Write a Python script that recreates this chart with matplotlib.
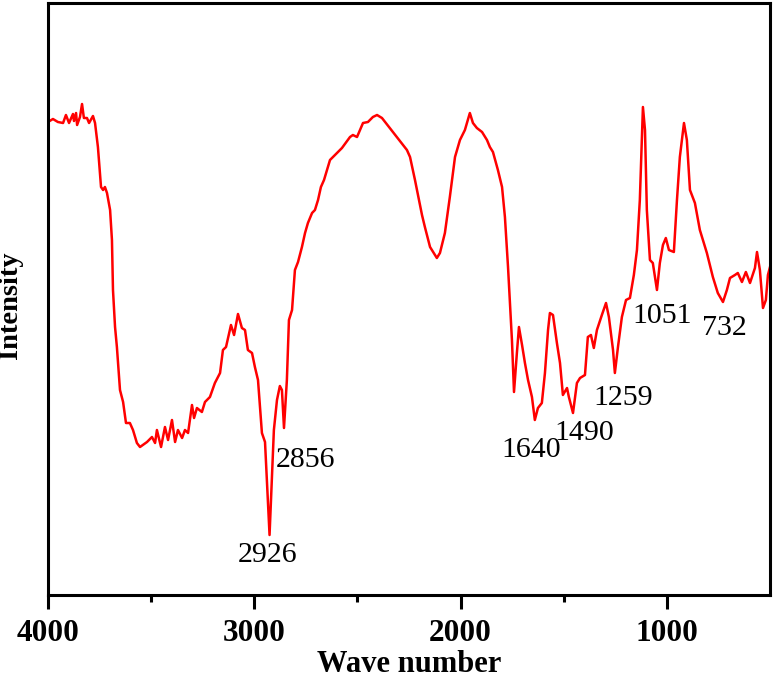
import numpy as np
import matplotlib.pyplot as plt

# FTIR spectrum (wave number, intensity a.u.)
wavenumber = [4000, 3976, 3952, 3927, 3913, 3898, 3879, 3874, 3864, 3859,
              3845, 3835, 3826, 3811, 3801, 3782, 3772, 3758, 3743, 3733,
              3724, 3714, 3699, 3690, 3685, 3675, 3666, 3651, 3636, 3622,
              3603, 3588, 3569, 3554, 3520, 3496, 3481, 3472, 3452, 3433,
              3418, 3399, 3384, 3370, 3350, 3336, 3321, 3302, 3292, 3278,
              3254, 3239, 3215, 3191, 3166, 3152, 3137, 3113, 3098, 3079,
              3060, 3045, 3031, 3011, 2997, 2982, 2963, 2948, 2926, 2905,
              2890, 2876, 2866, 2856, 2842, 2832, 2817, 2803, 2788, 2769,
              2754, 2740, 2720, 2706, 2691, 2677, 2662, 2633, 2609, 2575,
              2536, 2522, 2502, 2473, 2449, 2425, 2405, 2381, 2328, 2260,
              2245, 2221, 2187, 2173, 2148, 2115, 2100, 2076, 2052, 2027,
              2003, 1979, 1969, 1955, 1940, 1921, 1896, 1872, 1858, 1843,
              1819, 1799, 1785, 1770, 1751, 1741, 1727, 1717, 1702, 1688,
              1673, 1654, 1640, 1625, 1606, 1591, 1576, 1567, 1552, 1533,
              1518, 1504, 1484, 1475, 1455, 1436, 1421, 1397, 1383, 1368,
              1354, 1339, 1315, 1295, 1281, 1261, 1252, 1237, 1218, 1198,
              1179, 1160, 1145, 1131, 1121, 1116, 1106, 1097, 1082, 1068,
              1048, 1034, 1019, 1005, 990, 966, 951, 937, 917, 903,
              888, 864, 840, 806, 777, 753, 728, 709, 694, 670,
              656, 636, 617, 597, 573, 563, 549, 534, 520, 510, 500]
intensity = [478, 481, 478, 477, 485, 477, 486, 479, 487, 475,
             483, 496, 482, 482, 477, 484, 477, 453, 413, 410,
             413, 407, 390, 360, 310, 273, 253, 210, 198, 177,
             177, 170, 157, 153, 158, 163, 157, 170, 153, 173,
             160, 180, 158, 170, 162, 170, 167, 195, 182, 192,
             188, 198, 203, 217, 227, 250, 253, 275, 265, 286,
             272, 270, 250, 247, 233, 220, 167, 158, 65, 170,
             200, 214, 210, 172, 220, 280, 290, 330, 338, 353,
             367, 377, 387, 390, 400, 413, 420, 440, 445, 452,
             463, 465, 463, 477, 478, 483, 485, 482, 468, 450,
             443, 420, 385, 373, 353, 342, 347, 367, 403, 443,
             460, 470, 477, 487, 477, 472, 468, 460, 453, 448,
             430, 413, 383, 333, 260, 208, 247, 273, 255, 237,
             220, 203, 180, 192, 197, 227, 270, 287, 285, 257,
             237, 205, 212, 203, 187, 217, 222, 225, 263, 265,
             252, 270, 285, 297, 283, 250, 227, 253, 283, 300,
             302, 325, 350, 400, 460, 493, 470, 390, 340, 337,
             310, 337, 355, 362, 350, 348, 400, 443, 477, 460,
             410, 397, 370, 347, 323, 307, 298, 310, 322, 325,
             327, 318, 328, 317, 332, 348, 330, 292, 300, 325, 333]

peak_labels = ['2926', '2856', '1640', '1490', '1259', '1051', '732']
label_x = [2934, 2895, 1804, 1543, 1358, 1165, 830]
label_y = [38, 133, 143, 160, 195, 277, 265]
label_ha = ['center', 'left', 'left', 'left', 'left', 'left', 'left']

plt.rcParams['font.family'] = ['Liberation Serif', 'DejaVu Serif']

fig = plt.figure(figsize=(7.74, 6.82), dpi=100)
ax = fig.add_axes([48 / 774, 87 / 682, 722 / 774, 592 / 682])

ax.plot(wavenumber, intensity, color='red', linewidth=1.8)

for lab, x, y, ha in zip(peak_labels, label_x, label_y, label_ha):
    ax.text(x, y, lab, fontsize=21.5, ha=ha, va='baseline')

ax.set_xlim(4000, 500)
ax.set_ylim(5, 597)
ax.set_xticks([4000, 3000, 2000, 1000])
ax.set_xticks([3500, 2500, 1500], minor=True)
ax.set_yticks([])
ax.tick_params(axis='x', which='major', direction='out', length=10, width=2.2,
               labelsize=22.5, pad=7)
ax.tick_params(axis='x', which='minor', direction='out', length=5, width=2.2)
for lbl in ax.get_xticklabels():
    lbl.set_fontweight('bold')
for s in ax.spines.values():
    s.set_linewidth(2.2)

ax.set_xlabel('Wave number', fontsize=22, fontweight='bold', labelpad=2)
ax.set_ylabel('Intensity', fontsize=20.5, fontweight='bold')
ax.yaxis.set_label_coords(-0.034, 0.49)

fig.savefig('out.png', dpi=100)
